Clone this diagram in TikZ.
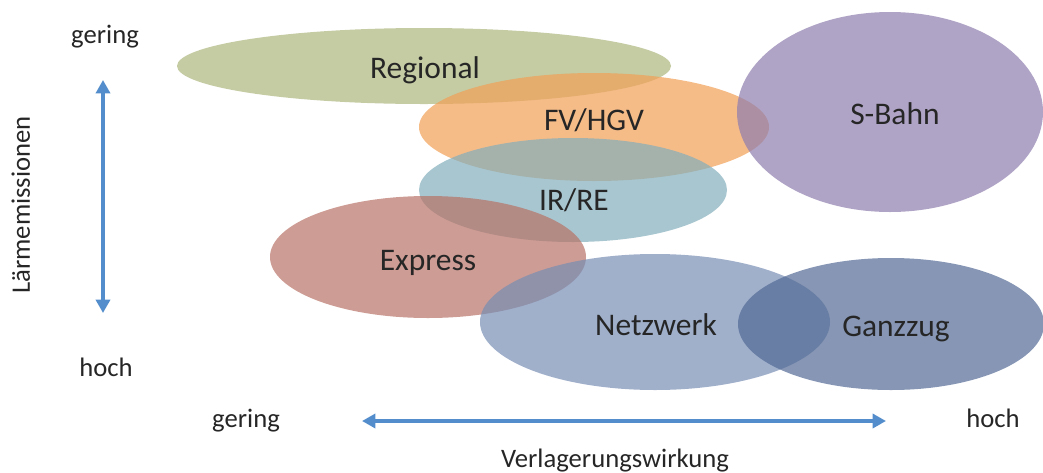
\documentclass[tikz,border=0pt]{standalone}
\usepackage{fontspec}
\setmainfont{Carlito}
\usetikzlibrary{shapes.geometric,arrows.meta}
\definecolor{regional}{RGB}{172,182,125}
\definecolor{fernverkehr}{RGB}{241,159,85}
\definecolor{interregio}{RGB}{131,174,188}
\definecolor{express}{RGB}{184,114,102}
\definecolor{netzwerk}{RGB}{119,142,181}
\definecolor{ganzzug}{RGB}{82,105,148}
\definecolor{sbahn}{RGB}{142,125,174}
\definecolor{pfeilblau}{RGB}{83,141,204}
\definecolor{schrift}{RGB}{38,38,38}
\tikzset{
  zone/.style={ellipse, inner sep=0pt, fill opacity=0.7},
  zonenname/.style={anchor=base, text=schrift, font=\fontsize{23.6}{28}\selectfont},
  achse/.style={line width=3pt, draw=pfeilblau, >={Triangle[width=10.5pt,length=10pt]}, <->},
  beschriftung/.style={anchor=base, text=schrift, font=\fontsize{20}{24}\selectfont}
}
\begin{document}
\begin{tikzpicture}[x=0.75pt,y=-0.75pt]
    \useasboundingbox (0,0) rectangle (1043,472);
    \node[zone, fill=regional, minimum width=370.5pt, minimum height=57pt] (regional) at (424,66) {};
    \node[zone, fill=fernverkehr, minimum width=262.5pt, minimum height=81pt] (fv) at (594,127) {};
    \node[zone, fill=interregio, minimum width=231pt, minimum height=78pt] (ir) at (573,190) {};
    \node[zone, fill=express, minimum width=237pt, minimum height=91.5pt] (express) at (428,257) {};
    \node[zone, fill=netzwerk, minimum width=262.5pt, minimum height=102pt] (netzwerk) at (655,322) {};
    \node[zone, fill=ganzzug, minimum width=229.5pt, minimum height=99pt] (ganzzug) at (891,324) {};
    \node[zone, fill=sbahn, minimum width=229.5pt, minimum height=150pt] (sbahn) at (890,112) {};
    \node[zonenname] (regionaltext) at (425,78) {Regional};
    \node[zonenname] (fvtext) at (594,130) {FV/HGV};
    \node[zonenname] (irtext) at (574,210) {IR/RE};
    \node[zonenname] (expresstext) at (428,270) {Express};
    \node[zonenname] (netzwerktext) at (656,335) {Netzwerk};
    \node[zonenname] (ganzzugtext) at (896,336) {Ganzzug};
    \node[zonenname] (sbahntext) at (895,124) {S-Bahn};
    \coordinate (voben) at (103,80);
    \coordinate (vunten) at (103,313);
    \coordinate (hlinks) at (362,421);
    \coordinate (hrechts) at (886,421);
    \draw[achse] (voben) -- (vunten);
    \draw[achse] (hlinks) -- (hrechts);
    \node[beschriftung] (ygering) at (105,43) {gering};
    \node[beschriftung] (yhoch) at (106,376) {hoch};
    \node[beschriftung, rotate=90] (ytitel) at (30,205) {Lärmemissionen};
    \node[beschriftung] (xgering) at (246,427) {gering};
    \node[beschriftung] (xhoch) at (993,427) {hoch};
    \node[beschriftung] (xtitel) at (615,467) {Verlagerungswirkung};
\end{tikzpicture}
\end{document}
